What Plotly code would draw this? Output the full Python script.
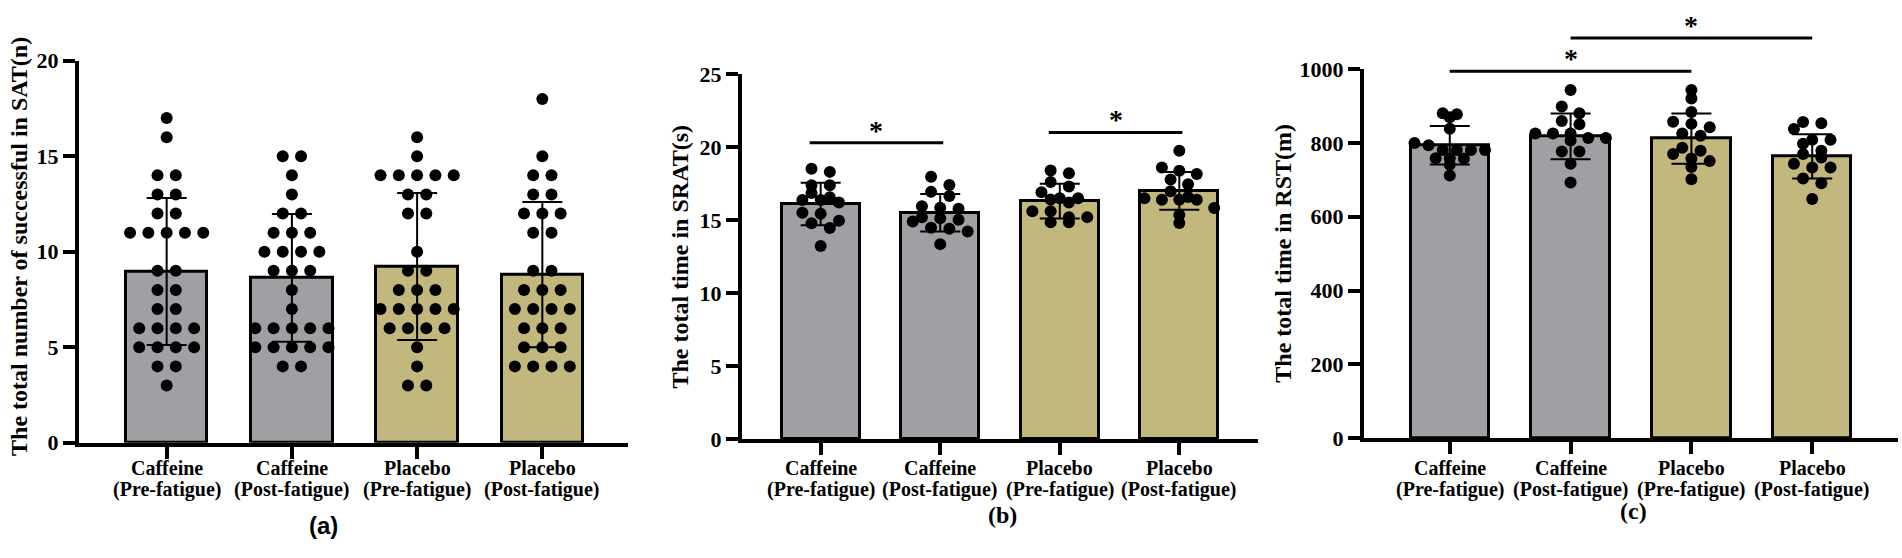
import numpy as np
import plotly.graph_objects as go

# ---------------- data ----------------
groups = ["Caffeine", "Caffeine", "Placebo", "Placebo"]
phases = ["(Pre-fatigue)", "(Post-fatigue)", "(Pre-fatigue)", "(Post-fatigue)"]

# (a) SAT - number of successful trials (n)
sat_points = [
    [17, 16, 14, 14, 13, 13, 12, 12, 11, 11, 11, 11, 11, 9, 9, 8, 8, 7, 7, 6, 6, 6, 6, 5, 5, 5, 5, 4, 4, 3],
    [15, 15, 14, 13, 12, 12, 11, 11, 11, 10, 10, 10, 10, 9, 9, 9, 8, 7, 6, 6, 6, 6, 6, 5, 5, 5, 5, 5, 4, 4],
    [16, 15, 14, 14, 14, 14, 14, 13, 13, 12, 12, 10, 9, 9, 8, 8, 8, 7, 7, 7, 7, 7, 6, 6, 6, 6, 5, 4, 3, 3],
    [18, 15, 14, 14, 13, 13, 12, 12, 12, 11, 11, 9, 9, 8, 8, 8, 7, 7, 7, 7, 6, 6, 6, 5, 5, 5, 4, 4, 4, 4],
]
sat_mean = [8.97, 8.63, 9.23, 8.80]
sat_sd = [3.85, 3.34, 3.85, 3.80]

# (b) SRAT - total time (s)
srat_points = [
    [18.52, 18.30, 17.39, 17.39, 16.86, 16.57, 16.37, 16.37, 16.20, 15.50, 15.43, 14.96, 14.78, 14.46, 13.22],
    [17.97, 17.40, 16.93, 16.65, 15.95, 15.84, 15.77, 15.19, 15.12, 15.02, 14.90, 14.47, 14.41, 14.21, 13.35],
    [18.40, 18.20, 17.60, 17.30, 16.90, 16.50, 16.50, 16.40, 16.20, 15.60, 15.60, 15.20, 15.20, 14.85, 14.85],
    [19.75, 18.60, 18.38, 18.16, 17.77, 17.45, 16.97, 16.58, 16.49, 16.39, 16.39, 16.39, 15.82, 15.34, 14.80],
]
srat_mean = [16.1, 15.5, 16.3, 17.0]
srat_sd = [1.45, 1.28, 1.19, 1.30]
srat_sig = [(0, 1, 20.3), (2, 3, 21.0)]

# (c) RST - total (m)
rst_points = [
    [881, 878, 870, 839, 800, 794, 781, 781, 781, 781, 759, 759, 758, 741, 712],
    [944, 899, 881, 860, 851, 826, 826, 826, 814, 814, 807, 777, 777, 744, 693],
    [944, 921, 884, 858, 852, 843, 826, 820, 787, 779, 770, 758, 751, 735, 702],
    [857, 854, 838, 809, 809, 798, 779, 770, 761, 744, 734, 734, 704, 691, 648],
]
rst_mean = [794, 818, 812, 764]
rst_sd = [52, 62, 68, 60]
rst_sig = [(0, 2, 995), (1, 3, 1085)]

y_titles = ["The total number of successful in SAT(n)",
            "The total time in SRAT(s)",
            "The total time in RST(m)"]
y_ticks = [[0, 5, 10, 15, 20], [0, 5, 10, 15, 20, 25], [0, 200, 400, 600, 800, 1000]]
panel_tags = ["(a)", "(b)", "(c)"]

# ---------------- styling / geometry ----------------
W, H = 1902, 558
GRAY, GOLD = "#a09fa4", "#c2b77c"
bar_colors = [GRAY, GRAY, GOLD, GOLD]
SERIF = "Liberation Serif"
BAR_W = 0.65
DOT = 12
LABEL_Y = (477, 500)  # centres of the two category label lines (px from top)
LABEL_SIZE = 20

# pixel positions: y-axis, end of x-axis, baseline, top of y-axis, category range,
# y-title centre, tag position, padding of significance lines (px)
geom = [
    dict(ax=79, end=628, base=451, top=51, r=(-0.70, 3.684), yt=(19, 246), tag=(323, 538),
         tagfont="Liberation Sans", pad=(0, 0)),
    dict(ax=742, end=1258, base=447, top=65, r=(-0.658, 3.658), yt=(680, 256), tag=(1002, 527),
         tagfont=SERIF, pad=(-11, 3)),
    dict(ax=1364, end=1898, base=446, top=60, r=(-0.71, 3.71), yt=(1283, 253), tag=(1633, 522),
         tagfont=SERIF, pad=(0, 0)),
]

panels = [
    (sat_points, sat_mean, sat_sd, []),
    (srat_points, srat_mean, srat_sd, srat_sig),
    (rst_points, rst_mean, rst_sd, rst_sig),
]


def swarm_offsets(vals, px_y, bar_px, row_h=12.0, max_step=18.3):
    # GraphPad-like scatter: bin values into rows, centre each row
    vals = np.asarray(vals, float)
    rows = np.floor(vals * px_y / row_h + 1e-9).astype(int)
    uniq = sorted(set(rows))
    nmax = max((rows == r).sum() for r in uniq)
    step = max_step if nmax < 2 else min(max_step, (bar_px - 8) / (nmax - 1))
    off = np.zeros(len(vals))
    for r in uniq:
        idx = np.where(rows == r)[0]
        idx = idx[np.argsort(-vals[idx], kind="stable")]
        n = len(idx)
        off[idx] = (np.arange(n) - (n - 1) / 2) * step
    return off


def bold(size, family=SERIF):
    return dict(family=family, size=size, color="black", weight="bold")


fig = go.Figure()
annotations = []
layout = {}
axis_style = dict(showline=True, linewidth=4, linecolor="black",
                  ticks="outside", ticklen=12, tickwidth=4, tickcolor="black",
                  showgrid=False, zeroline=False, fixedrange=True)

for k, ((pts, mean, sd, sig), g) in enumerate(zip(panels, geom)):
    n = "" if k == 0 else str(k + 1)
    xa, ya = "x" + n, "y" + n
    ymax = y_ticks[k][-1]
    px_x = (g["end"] - g["ax"]) / (g["r"][1] - g["r"][0])
    px_y = (g["base"] - g["top"]) / ymax

    fig.add_trace(go.Bar(
        x=list(range(4)), y=mean, width=BAR_W,
        marker=dict(color=bar_colors, line=dict(color="black", width=3)),
        error_y=dict(type="data", array=sd, color="black", thickness=2, width=20),
        xaxis=xa, yaxis=ya, showlegend=False, hoverinfo="skip"))

    for i, vals in enumerate(pts):
        off = swarm_offsets(vals, px_y, BAR_W * px_x)
        fig.add_trace(go.Scatter(
            x=i + off / px_x, y=vals, mode="markers",
            marker=dict(size=DOT, color="black"), cliponaxis=False,
            xaxis=xa, yaxis=ya, showlegend=False))

    layout["xaxis" + n] = dict(
        domain=[g["ax"] / W, g["end"] / W], range=list(g["r"]),
        tickvals=[0, 1, 2, 3], showticklabels=False,
        anchor=ya, **axis_style)
    layout["yaxis" + n] = dict(
        domain=[1 - g["base"] / H, 1 - g["top"] / H], range=[0, ymax],
        tickvals=y_ticks[k], tickfont=bold(22),
        anchor=xa, **axis_style)

    # two-line category labels under each tick
    for i in range(4):
        for line, txt in zip(LABEL_Y, (groups[i], phases[i])):
            annotations.append(dict(
                text=txt, x=i, xref=xa, y=1 - line / H, yref="paper",
                xanchor="center", yanchor="middle", showarrow=False,
                borderpad=0, font=bold(LABEL_SIZE)))

    annotations.append(dict(
        text=y_titles[k], textangle=-90, xref="paper", yref="paper",
        x=g["yt"][0] / W, y=1 - g["yt"][1] / H,
        xanchor="center", yanchor="middle", showarrow=False,
        borderpad=0, font=bold(24)))
    annotations.append(dict(
        text=panel_tags[k], xref="paper", yref="paper",
        x=g["tag"][0] / W, y=1 - g["tag"][1] / H,
        xanchor="center", yanchor="middle", showarrow=False,
        borderpad=0, font=bold(24, g["tagfont"])))

    if sig:
        # hidden axis with the same scale that reaches the top of the page,
        # so brackets above the axis end are not clipped
        ys = "y" + str(k + 4)
        layout["yaxis" + str(k + 4)] = dict(
            domain=[1 - g["base"] / H, 1], range=[0, ymax * g["base"] / (g["base"] - g["top"])],
            visible=False, anchor=xa, fixedrange=True)
        for (i, j, h) in sig:
            x0 = i + g["pad"][0] / px_x
            x1 = j + g["pad"][1] / px_x
            fig.add_trace(go.Scatter(
                x=[x0, x1], y=[h, h], mode="lines",
                line=dict(color="black", width=3),
                xaxis=xa, yaxis=ys, showlegend=False, hoverinfo="skip"))
            annotations.append(dict(
                x=(x0 + x1) / 2, y=h, xref=xa, yref=ys, text="*",
                showarrow=False, xanchor="center", yanchor="bottom", yshift=-4,
                borderpad=0, font=bold(28)))

fig.update_layout(
    width=W, height=H, margin=dict(l=0, r=0, t=0, b=0),
    paper_bgcolor="white", plot_bgcolor="rgba(0,0,0,0)",
    showlegend=False, bargap=0, annotations=annotations, **layout)

fig.write_html("out.html", config={"displayModeBar": False},
               post_script="document.body.style.margin='0';")
